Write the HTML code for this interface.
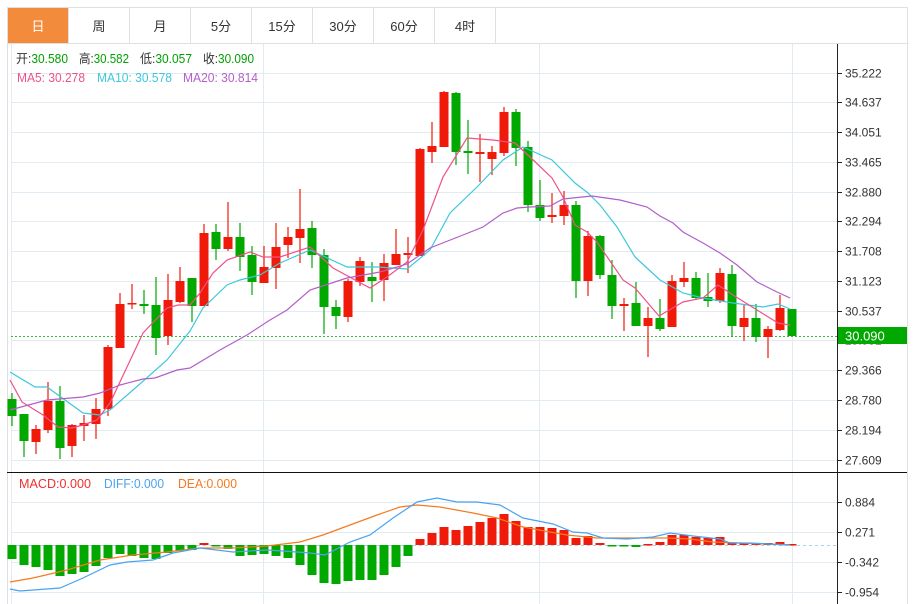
<!DOCTYPE html>
<html><head><meta charset="utf-8"><style>
body{margin:0;background:#fff;width:913px;height:604px;overflow:hidden;font-family:"Liberation Sans","Noto Sans CJK SC",sans-serif}
svg{position:absolute;left:0;top:0}
</style></head><body>
<svg width="913" height="604" viewBox="0 0 913 604" font-family="Liberation Sans, Noto Sans CJK SC, sans-serif">
<rect x="7.5" y="7.5" width="900" height="600" fill="none" stroke="#e0e0e0"/>
<rect x="8" y="8" width="60" height="35" fill="#f28c3c"/>
<g stroke="#e0e0e0"><line x1="7" y1="43.5" x2="907" y2="43.5"/>
<line x1="68.5" y1="8" x2="68.5" y2="43"/><line x1="129.5" y1="8" x2="129.5" y2="43"/><line x1="190.5" y1="8" x2="190.5" y2="43"/><line x1="251.5" y1="8" x2="251.5" y2="43"/><line x1="312.5" y1="8" x2="312.5" y2="43"/><line x1="373.5" y1="8" x2="373.5" y2="43"/><line x1="434.5" y1="8" x2="434.5" y2="43"/><line x1="495.5" y1="8" x2="495.5" y2="43"/></g>
<g font-size="13" text-anchor="middle" fill="#333"><text x="38" y="31" fill="#fff">日</text><text x="99" y="31">周</text><text x="160" y="31">月</text><text x="221" y="31">5分</text><text x="282" y="31">15分</text><text x="343" y="31">30分</text><text x="404" y="31">60分</text><text x="465" y="31">4时</text></g>
<g stroke="#e3ebf2" stroke-width="1">
<line x1="11" y1="73.5" x2="837" y2="73.5"/><line x1="11" y1="102.5" x2="837" y2="102.5"/><line x1="11" y1="132.5" x2="837" y2="132.5"/><line x1="11" y1="162.5" x2="837" y2="162.5"/><line x1="11" y1="192.5" x2="837" y2="192.5"/><line x1="11" y1="221.5" x2="837" y2="221.5"/><line x1="11" y1="251.5" x2="837" y2="251.5"/><line x1="11" y1="281.5" x2="837" y2="281.5"/><line x1="11" y1="311.5" x2="837" y2="311.5"/><line x1="11" y1="340.5" x2="837" y2="340.5"/><line x1="11" y1="370.5" x2="837" y2="370.5"/><line x1="11" y1="400.5" x2="837" y2="400.5"/><line x1="11" y1="430.5" x2="837" y2="430.5"/><line x1="11" y1="460.5" x2="837" y2="460.5"/>
<line x1="11" y1="502.5" x2="837" y2="502.5"/><line x1="11" y1="532.5" x2="837" y2="532.5"/><line x1="11" y1="562.5" x2="837" y2="562.5"/><line x1="11" y1="592.5" x2="837" y2="592.5"/>
<line x1="11.5" y1="44" x2="11.5" y2="604"/><line x1="263.5" y1="44" x2="263.5" y2="604"/><line x1="539.5" y1="44" x2="539.5" y2="604"/><line x1="792.5" y1="44" x2="792.5" y2="604"/>
</g>
<line x1="7" y1="472.5" x2="907" y2="472.5" stroke="#111"/>
<line x1="837.5" y1="44" x2="837.5" y2="604" stroke="#222"/>
<g font-size="12" fill="#333">
<g stroke="#222"><line x1="837" y1="73.5" x2="842" y2="73.5"/><line x1="837" y1="102.5" x2="842" y2="102.5"/><line x1="837" y1="132.5" x2="842" y2="132.5"/><line x1="837" y1="162.5" x2="842" y2="162.5"/><line x1="837" y1="192.5" x2="842" y2="192.5"/><line x1="837" y1="221.5" x2="842" y2="221.5"/><line x1="837" y1="251.5" x2="842" y2="251.5"/><line x1="837" y1="281.5" x2="842" y2="281.5"/><line x1="837" y1="311.5" x2="842" y2="311.5"/><line x1="837" y1="370.5" x2="842" y2="370.5"/><line x1="837" y1="400.5" x2="842" y2="400.5"/><line x1="837" y1="430.5" x2="842" y2="430.5"/><line x1="837" y1="460.5" x2="842" y2="460.5"/><line x1="837" y1="502.5" x2="842" y2="502.5"/><line x1="837" y1="532.5" x2="842" y2="532.5"/><line x1="837" y1="562.5" x2="842" y2="562.5"/><line x1="837" y1="592.5" x2="842" y2="592.5"/></g>
<text x="845" y="77.5">35.222</text><text x="845" y="106.5">34.637</text><text x="845" y="136.5">34.051</text><text x="845" y="166.5">33.465</text><text x="845" y="196.5">32.880</text><text x="845" y="225.5">32.294</text><text x="845" y="255.5">31.708</text><text x="845" y="285.5">31.123</text><text x="845" y="315.5">30.537</text><text x="845" y="344.5">29.951</text><text x="845" y="374.5">29.366</text><text x="845" y="404.5">28.780</text><text x="845" y="434.5">28.194</text><text x="845" y="464.5">27.609</text>
<text x="845" y="506.5">0.884</text><text x="845" y="536.5">0.271</text><text x="845" y="566.5">-0.342</text><text x="845" y="596.5">-0.954</text>
</g>
<rect x="838" y="327" width="69" height="17" fill="#00a800"/>
<text x="845" y="340.5" font-size="13" fill="#fff">30.090</text>
<line x1="11" y1="336.5" x2="837" y2="336.5" stroke="#3cb83c" stroke-dasharray="2,2"/>
<line x1="11" y1="545.5" x2="837" y2="545.5" stroke="#a8d4e8" stroke-dasharray="3,3"/>
<g font-size="12.5" lengthAdjust="spacingAndGlyphs">
<text x="16" y="63" fill="#333" textLength="52" lengthAdjust="spacingAndGlyphs">开:<tspan fill="#00a000">30.580</tspan></text>
<text x="79" y="63" fill="#333" textLength="50" lengthAdjust="spacingAndGlyphs">高:<tspan fill="#00a000">30.582</tspan></text>
<text x="140" y="63" fill="#333" textLength="52" lengthAdjust="spacingAndGlyphs">低:<tspan fill="#00a000">30.057</tspan></text>
<text x="203" y="63" fill="#333" textLength="51" lengthAdjust="spacingAndGlyphs">收:<tspan fill="#00a000">30.090</tspan></text>
<text x="17" y="82" fill="#f0508a" textLength="68" lengthAdjust="spacingAndGlyphs">MA5: 30.278</text>
<text x="97" y="82" fill="#3cc8dc" textLength="75" lengthAdjust="spacingAndGlyphs">MA10: 30.578</text>
<text x="183" y="82" fill="#b35ec8" textLength="75" lengthAdjust="spacingAndGlyphs">MA20: 30.814</text>
<text x="19" y="488" fill="#f03030" textLength="72" lengthAdjust="spacingAndGlyphs">MACD:0.000</text>
<text x="104" y="488" fill="#4aa3f0" textLength="60" lengthAdjust="spacingAndGlyphs">DIFF:0.000</text>
<text x="178" y="488" fill="#f57a20" textLength="59" lengthAdjust="spacingAndGlyphs">DEA:0.000</text></g>
<g id="c"></g>
<polyline fill="none" stroke="#3cc8dc" stroke-width="1.2" points="10,372 35,387 47,387 83,413 100,415 110,410 133,390 167,360 190,331 203,308 227,285 240,280 260,275 280,263 310,250 347,267 377,267 407,269 430,250 450,213 477,187 503,160 523,147 552,160 575,183 588,193 600,205 617,227 635,257 660,280 683,293 703,298 733,303 763,307 778,304 790,309"/>
<polyline fill="none" stroke="#f0508a" stroke-width="1.2" points="10,380 22,402 43,415 58,427 72,428 83,425 97,420 110,403 127,367 143,333 167,308 178,305 190,305 200,293 213,273 227,260 250,252 263,257 280,257 310,247 333,268 370,288 387,277 407,262 423,230 443,177 467,138 493,140 515,143 530,157 552,178 563,197 575,225 587,232 597,242 623,280 635,288 659,316 683,302 703,298 718,285 733,295 757,310 778,323 790,325"/>
<polyline fill="none" stroke="#b35ec8" stroke-width="1.2" points="10,410 47,400 83,397 100,393 120,385 143,379 155,378 177,370 190,368 220,350 247,335 270,320 287,310 310,290 347,278 380,272 407,264 430,248 463,235 483,227 503,213 517,208 530,207 550,206 563,199 592,196 620,200 647,207 660,216 673,223 683,232 703,243 720,253 737,265 757,282 777,292 790,298"/>
<g id="m"></g>
<polyline fill="none" stroke="#f57a20" stroke-width="1.2" points="10,582 33,578 67,570 100,560 133,555 167,552 200,548 233,548 267,546 300,542 323,535 350,525 377,515 400,507 417,505 440,507 473,513 497,518 523,527 550,532 567,535 597,538 640,538 667,538 690,539 713,542 740,543 790,545"/>
<polyline fill="none" stroke="#4aa3f0" stroke-width="1.2" points="10,589 20,591 60,588 83,578 110,565 127,562 153,560 173,553 200,548 233,552 267,550 283,551 310,553 325,555 350,542 370,535 393,518 417,502 437,498 457,502 477,502 500,505 523,518 553,524 573,532 587,533 603,538 627,539 653,537 670,533 693,536 720,539 730,543 750,543 790,545"/>
</svg>
<script>
var C=[[12,'g',393,426,399,416],[24,'g',414,457,414,441],[36,'r',425,454,429,442],[48,'r',382,433,401,430],[60,'g',386,459,401,448],[72,'r',424,457,425,446],[84,'r',415,441,423,426],[96,'r',398,439,409,424],[108,'r',345,416,347,409],[120,'r',293,348,304,348],[132,'r',284,309,303,304],[144,'g',290,314,304,306],[156,'g',277,355,305,338],[168,'r',274,345,300,336],[180,'r',267,303,281,302],[192,'g',278,322,278,306],[204,'r',224,306,233,306],[216,'g',224,260,232,249],[228,'r',202,251,237,249],[240,'g',223,271,237,257],[252,'g',246,295,255,282],[264,'r',246,283,267,283],[276,'r',223,289,247,268],[288,'r',227,258,237,245],[300,'r',189,263,229,238],[312,'g',221,268,228,255],[324,'g',249,334,255,307],[336,'g',300,329,307,316],[348,'r',279,322,281,317],[360,'r',257,286,261,282],[372,'g',262,302,277,281],[384,'r',254,301,263,280],[396,'r',229,265,254,265],[408,'r',237,273,253,255],[420,'r',148,256,149,256],[432,'r',122,163,146,152],[444,'r',91,147,92,147],[456,'g',92,165,93,152],[468,'g',120,174,151,153],[480,'r',134,182,152,154],[492,'r',146,175,152,159],[504,'r',107,156,112,153],[516,'g',109,166,112,148],[528,'g',141,212,147,205],[540,'g',180,221,205,218],[552,'r',193,223,215,217],[564,'r',191,225,205,216],[576,'g',201,298,205,281],[588,'r',231,296,236,281],[600,'g',235,279,236,275],[612,'g',260,319,275,306],[624,'r',298,331,304,306],[636,'g',282,326,303,326],[648,'r',307,357,318,326],[660,'g',299,331,318,329],[672,'r',275,327,281,327],[684,'r',262,287,278,282],[696,'g',272,300,278,298],[708,'g',273,307,297,301],[720,'r',268,303,273,301],[732,'g',265,337,274,326],[744,'r',305,341,318,327],[756,'g',304,342,318,337],[768,'r',326,358,329,337],[780,'r',295,331,308,330],[792,'g',309,336,309,336]];
var M=[559,565,567,570,576,574,572,566,558,554,556,558,559,553,551,550,543,546,549,556,555,554,556,558,565,575,583,584,581,580,580,575,567,556,539,533,527,530,526,522,518,514,521,527,527,528,530,538,536,543,546,546,547,544,542,535,535,537,538,537,543,543,543,543,542,544];
var s='',col={r:'#f01a0a',g:'#00a800'};
C.forEach(function(c){var f=col[c[1]];s+='<line x1="'+c[0]+'" y1="'+c[2]+'" x2="'+c[0]+'" y2="'+c[3]+'" stroke="'+f+'" stroke-width="1.2"/>';s+='<rect x="'+(c[0]-4.5)+'" y="'+c[4]+'" width="9" height="'+Math.max(1.5,c[5]-c[4])+'" fill="'+f+'"/>';});
document.getElementById('c').innerHTML=s;s='';
M.forEach(function(v,i){var x=12+12*i-4.5,f=v<545?'#f01a0a':'#00a800',y=Math.min(v,545),h=Math.max(1.5,Math.abs(v-545));s+='<rect x="'+x+'" y="'+y+'" width="9" height="'+h+'" fill="'+f+'"/>';});
document.getElementById('m').innerHTML=s;
</script>
</body></html>
